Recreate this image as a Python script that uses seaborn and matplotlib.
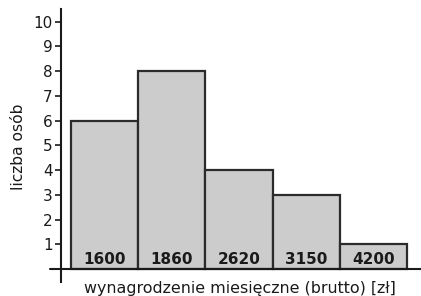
import matplotlib
matplotlib.use("Agg")
import matplotlib.pyplot as plt
import seaborn as sns
import pandas as pd

categories = ["1600", "1860", "2620", "3150", "4200"]
counts = [6, 8, 4, 3, 1]
yticks = list(range(1, 11))

sns.set_theme(style="white")
plt.rcParams['font.family'] = ['DejaVu Sans']

df = pd.DataFrame({"wage": categories, "count": counts})

fig = plt.figure(figsize=(4.21, 2.96), dpi=100)
ax = fig.add_axes([61/421, 14.4/296, 360/421, (286.7-14.4)/296])

sns.barplot(data=df, x="wage", y="count", ax=ax, width=1.0,
            color="#cccccc", saturation=1, edgecolor="#2b2b2b", linewidth=1.6)

ax.set_xlim(-0.65, 4.71)
ax.set_ylim(-0.5, 10.5)

for i, (c, v) in enumerate(zip(categories, counts)):
    ax.text(i, 0.38, c, ha="center", va="center", fontsize=11, fontweight="bold",
            color="#1a1a1a")

ax.plot([-0.81, 4.71], [0, 0], color="#1a1a1a", lw=1.5, clip_on=False, zorder=5)

for s in ["top", "right", "bottom"]:
    ax.spines[s].set_visible(False)
ax.spines["left"].set_color("#1a1a1a")
ax.spines["left"].set_linewidth(1.5)

ax.set_yticks(yticks)
ax.set_yticklabels([str(t) for t in yticks])
ax.tick_params(axis="y", which="both", left=True, length=4.5, width=1.2,
               color="#1a1a1a", pad=1.5, labelsize=11, labelcolor="#1a1a1a")
ax.set_xticks([])
ax.set_xlabel("")
ax.set_ylabel("")

fig.text(240/421, 1 - 289/296, "wynagrodzenie miesięczne (brutto) [zł]",
         ha="center", va="center", fontsize=11.4, color="#1a1a1a")
fig.text(19/421, 1 - 147/296, "liczba osób", ha="center", va="center",
         rotation=90, fontsize=11.2, color="#1a1a1a")

fig.savefig("out.png", dpi=100)
